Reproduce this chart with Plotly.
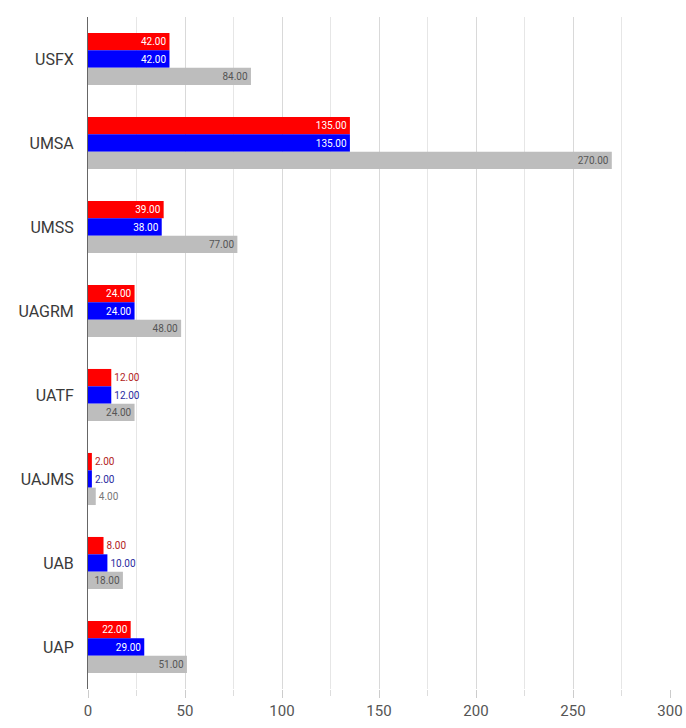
import plotly.graph_objects as go

categories = ["USFX", "UMSA", "UMSS", "UAGRM", "UATF", "UAJMS", "UAB", "UAP"]
red_values = [42, 135, 39, 24, 12, 2, 8, 22]
blue_values = [42, 135, 38, 24, 12, 2, 10, 29]
gray_values = [84, 270, 77, 48, 24, 4, 18, 51]
x_ticks = [0, 50, 100, 150, 200, 250, 300]

series = [
    ("Rojo", red_values, "#ff0000", "#ffffff", "#b22222"),
    ("Azul", blue_values, "#0000ff", "#ffffff", "#2a2aa0"),
    ("Gris", gray_values, "#bdbdbd", "#555555", "#777777"),
]

fig = go.Figure()
for name, vals, color, intc, outc in series:
    fig.add_trace(go.Bar(
        y=categories, x=vals, orientation="h", name=name,
        marker=dict(color=color, line=dict(width=0)),
        text=[f"{v:.2f}" for v in vals],
        textposition=["inside" if v >= 15 else "outside" for v in vals],
        insidetextanchor="end",
        insidetextfont=dict(color=intc, size=10, family="Roboto"),
        outsidetextfont=dict(color=outc, size=10, family="Roboto"),
        cliponaxis=False,
    ))

fig.update_layout(
    width=686, height=728,
    margin=dict(l=88, r=16, t=17, b=39),
    barmode="group", bargap=0.38, bargroupgap=0,
    plot_bgcolor="white", paper_bgcolor="white",
    showlegend=False,
    font=dict(family="Roboto", color="#444"),
)
fig.update_yaxes(
    categoryorder="array", categoryarray=categories,
    autorange="reversed", automargin=False,
    showline=True, linecolor="#666", linewidth=1,
    ticks="", ticklabelstandoff=10,
    tickfont=dict(size=16, color="#3a3a3a", family="Roboto"),
    showgrid=False,
)
fig.update_xaxes(
    range=[0, 300], tickvals=x_ticks, ticktext=[str(t) for t in x_ticks],
    automargin=False,
    showgrid=True, gridcolor="#d9d9d9", gridwidth=1,
    minor=dict(dtick=25, showgrid=True, gridcolor="#e6e6e6", ticks="outside", ticklen=6, tickcolor="#ddd"),
    ticks="outside", ticklen=8, tickcolor="#ccc",
    zeroline=False, showline=False,
    tickfont=dict(size=15, color="#555", family="Roboto"),
)
fig.write_html("out.html", config={"displayModeBar": False},
               post_script="document.body.style.margin='0';")
